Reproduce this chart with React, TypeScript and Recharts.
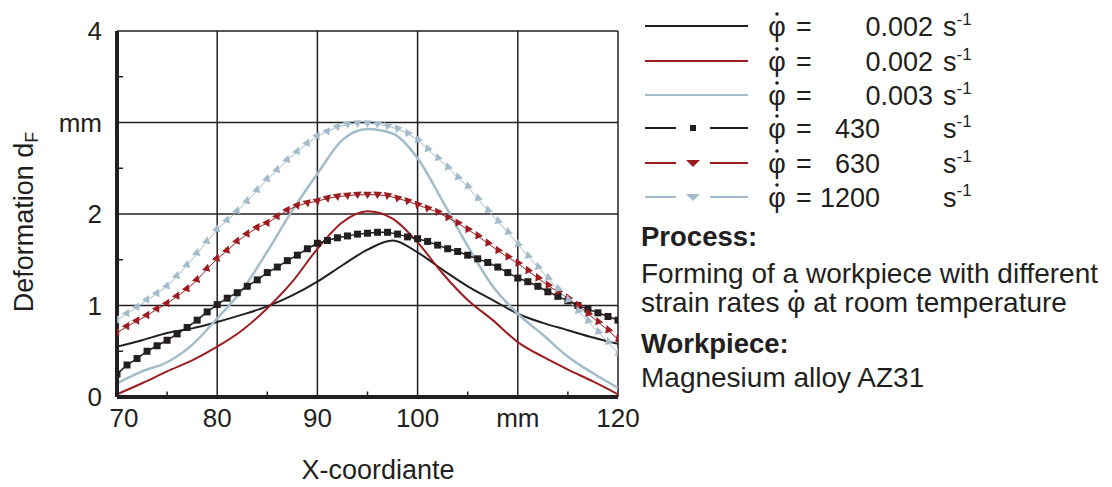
import React from 'react';
import { LineChart, Line, XAxis, YAxis, CartesianGrid, ReferenceLine } from 'recharts';

// x positions (mm)
const xSlow = [70, 72.5, 75, 77.5, 80, 82.5, 85, 87.5, 90, 92.5, 95, 97.5, 100, 102.5, 105, 107.5, 110, 112.5, 115, 117.5, 120];
const xFast = [
  70, 71, 72, 73, 74, 75, 76, 77, 78, 79, 80, 81, 82, 83, 84, 85, 86, 87, 88, 89, 90,
  91, 92, 93, 94, 95, 96, 97, 98, 99, 100, 101, 102, 103, 104, 105, 106, 107, 108, 109, 110,
  111, 112, 113, 114, 115, 116, 117, 118, 119, 120,
];

// quasi-static strain rates
const black002 = [0.55, 0.62, 0.70, 0.75, 0.82, 0.90, 0.99, 1.11, 1.26, 1.44, 1.61, 1.71, 1.58, 1.39, 1.21, 1.06, 0.91, 0.81, 0.73, 0.65, 0.58];
const red002 = [0.03, 0.15, 0.28, 0.40, 0.55, 0.73, 0.97, 1.26, 1.62, 1.91, 2.03, 1.95, 1.69, 1.35, 1.06, 0.84, 0.60, 0.44, 0.30, 0.17, 0.03];
const blue003 = [0.15, 0.28, 0.38, 0.57, 0.86, 1.17, 1.59, 2.04, 2.44, 2.81, 2.93, 2.88, 2.61, 2.14, 1.65, 1.21, 0.91, 0.68, 0.44, 0.26, 0.10];

// dynamic strain rates
const black430 = [
  0.25, 0.35, 0.42, 0.50, 0.56, 0.62, 0.69, 0.76, 0.84, 0.93, 1.01, 1.08, 1.14, 1.21, 1.28, 1.36, 1.42, 1.49, 1.55, 1.62, 1.68,
  1.71, 1.74, 1.76, 1.78, 1.79, 1.80, 1.80, 1.78, 1.75, 1.73, 1.70, 1.66, 1.62, 1.59, 1.55, 1.51, 1.47, 1.42, 1.36, 1.30,
  1.26, 1.21, 1.15, 1.10, 1.05, 1.00, 0.96, 0.92, 0.88, 0.84,
];
const red630 = [
  0.70, 0.77, 0.83, 0.89, 0.96, 1.02, 1.10, 1.18, 1.28, 1.40, 1.51, 1.60, 1.70, 1.78, 1.85, 1.90, 1.97, 2.04, 2.09, 2.12, 2.14,
  2.17, 2.19, 2.20, 2.21, 2.21, 2.21, 2.20, 2.17, 2.14, 2.10, 2.06, 2.02, 1.96, 1.90, 1.83, 1.76, 1.68, 1.60, 1.53, 1.46,
  1.38, 1.30, 1.22, 1.15, 1.08, 1.00, 0.91, 0.82, 0.73, 0.63,
];
const blue1200 = [
  0.84, 0.91, 0.98, 1.06, 1.13, 1.21, 1.32, 1.44, 1.57, 1.70, 1.83, 1.93, 2.03, 2.14, 2.26, 2.38, 2.48, 2.59, 2.68, 2.77, 2.85,
  2.90, 2.95, 2.98, 2.99, 2.99, 2.98, 2.96, 2.93, 2.88, 2.81, 2.71, 2.61, 2.51, 2.40, 2.30, 2.17, 2.04, 1.92, 1.80, 1.67,
  1.54, 1.42, 1.30, 1.18, 1.06, 0.94, 0.83, 0.71, 0.60, 0.48,
];

const xTicks = [70, 80, 90, 100, 110, 120];
const yTicks = [0, 1, 2, 3, 4];
const xMinor = [75, 85, 95, 105, 115];
const yMinor = [0.5, 1.5, 2.5, 3.5];

const legendRates = ['0.002', '0.002', '0.003', '430', '630', '1200'];

const INK = '#231f20';
const RED = '#9d1c20';
const BLUE = '#a2bccb';
const FONT = '"Liberation Sans", Arial, sans-serif';

const W = 640;
const H = 487;
const PLOT = { left: 117, top: 31, right: 618, bottom: 397 };
const PX = (PLOT.right - PLOT.left) / 50;
const PY = (PLOT.bottom - PLOT.top) / 4;

const toPoints = (xs: number[], ys: number[]) => xs.map((x, i) => ({ x, y: ys[i] }));

const squareDot = (props: any) => {
  const { cx, cy, index } = props;
  if (cx == null || cy == null) return <g key={index} />;
  return <rect key={index} x={cx - 3.5} y={cy - 3.5} width={7} height={7} fill={INK} />;
};

// triangles sit under the curve, pointing away from it
const triangleDot = (ys: number[], color: string) => (props: any) => {
  const { cx, cy, index } = props;
  if (cx == null || cy == null) return <g key={index} />;
  const i0 = Math.max(0, index - 1);
  const i1 = Math.min(ys.length - 1, index + 1);
  const dy = ys[i1] - ys[i0];
  const dx = xFast[i1] - xFast[i0];
  const ang = (Math.atan2(-dy * PY, dx * PX) * 180) / Math.PI;
  return (
    <path
      key={index}
      d="M-4.3,-3 L4.3,-3 L0,4.3 Z"
      fill={color}
      transform={`translate(${cx},${cy}) rotate(${ang})`}
    />
  );
};

const XTick = (props: any) => {
  const { x, payload } = props;
  const v = payload.value;
  return (
    <text
      x={x + (v === 70 ? 7 : 0)}
      y={PLOT.bottom + 30}
      textAnchor="middle"
      fontSize={26}
      fontFamily={FONT}
      fill={INK}
    >
      {v === 110 ? 'mm' : v}
    </text>
  );
};

const YTick = (props: any) => {
  const { y, payload } = props;
  const v = payload.value;
  return (
    <text x={102} y={y + 9} textAnchor="end" fontSize={26} fontFamily={FONT} fill={INK}>
      {v === 3 ? 'mm' : v}
    </text>
  );
};

const legendRows = [26, 61, 95, 128, 163, 197];
const legendColors = [INK, RED, BLUE, INK, RED, BLUE];

function LegendIcon({ row, i }: { row: number; i: number }) {
  const color = legendColors[i];
  if (i < 3) {
    return <line x1={645} x2={748} y1={row} y2={row} stroke={color} strokeWidth={2} />;
  }
  return (
    <g>
      <line x1={645} x2={676} y1={row} y2={row} stroke={color} strokeWidth={2} />
      <line x1={710} x2={748} y1={row} y2={row} stroke={color} strokeWidth={2} />
      {i === 3 ? (
        <rect x={690} y={row - 3} width={6} height={6} fill={color} />
      ) : (
        <path d={`M${686},${row - 3} L${700},${row - 3} L${693},${row + 4} Z`} fill={color} />
      )}
    </g>
  );
}

// phi with a dot above (strain rate symbol)
function PhiDot({ x, base }: { x: number; base: number }) {
  return (
    <g>
      <text x={x} y={base} fontSize={27} textAnchor="middle">φ</text>
      <circle cx={x} cy={base - 21.5} r={1.8} fill={INK} />
    </g>
  );
}

export default function App() {
  return (
    <div style={{ position: 'absolute', left: 0, top: 0, width: 1112, height: 487, background: '#fff' }}>
      <div style={{ position: 'absolute', left: 0, top: 0 }}>
        <LineChart width={W} height={H} margin={{ top: PLOT.top, right: W - PLOT.right, bottom: 50, left: 57 }}>
          <CartesianGrid stroke={INK} strokeWidth={1.5} />
          <XAxis
            type="number"
            dataKey="x"
            domain={[70, 120]}
            ticks={xTicks}
            height={H - PLOT.bottom - 50}
            axisLine={{ stroke: INK, strokeWidth: 4 }}
            tickLine={false}
            tick={<XTick />}
            allowDataOverflow
          />
          <YAxis
            type="number"
            domain={[0, 4]}
            ticks={yTicks}
            width={60}
            axisLine={{ stroke: INK, strokeWidth: 4 }}
            tickLine={false}
            tick={<YTick />}
            allowDataOverflow
          />
          {xMinor.map((v) => (
            <ReferenceLine key={`xm${v}`} segment={[{ x: v, y: 0 }, { x: v, y: 0.06 }]} stroke={INK} strokeWidth={1.5} />
          ))}
          {yMinor.map((v) => (
            <ReferenceLine key={`ym${v}`} segment={[{ x: 70, y: v }, { x: 70.6, y: v }]} stroke={INK} strokeWidth={1.5} />
          ))}
          <Line data={toPoints(xSlow, black002)} dataKey="y" type="monotone" stroke={INK} strokeWidth={2} dot={false} isAnimationActive={false} />
          <Line data={toPoints(xSlow, red002)} dataKey="y" type="monotone" stroke={RED} strokeWidth={2} dot={false} isAnimationActive={false} />
          <Line data={toPoints(xSlow, blue003)} dataKey="y" type="monotone" stroke={BLUE} strokeWidth={2.5} dot={false} isAnimationActive={false} />
          <Line data={toPoints(xFast, black430)} dataKey="y" type="linear" stroke={INK} strokeWidth={1.5} dot={squareDot} isAnimationActive={false} />
          <Line data={toPoints(xFast, red630)} dataKey="y" type="linear" stroke={RED} strokeWidth={1} dot={triangleDot(red630, RED)} isAnimationActive={false} />
          <Line data={toPoints(xFast, blue1200)} dataKey="y" type="linear" stroke={BLUE} strokeWidth={1} dot={triangleDot(blue1200, BLUE)} isAnimationActive={false} />
        </LineChart>
      </div>
      <svg
        width={1112}
        height={487}
        style={{ position: 'absolute', left: 0, top: 0, pointerEvents: 'none' }}
        fontFamily={FONT}
        fill={INK}
      >
        <text transform="translate(33,222) rotate(-90)" textAnchor="middle" fontSize={27}>
          Deformation d<tspan fontSize={18} dy={5}>F</tspan>
        </text>
        <text x={378} y={479} textAnchor="middle" fontSize={27}>
          X-coordiante
        </text>

        {legendRows.map((row, i) => (
          <g key={i}>
            <LegendIcon row={row} i={i} />
            <PhiDot x={777} base={row + 9.5} />
            <text x={796} y={row + 9.5} fontSize={27}>=</text>
            <text x={i < 3 ? 933 : 880} y={row + 9.5} fontSize={27} textAnchor="end">
              {legendRates[i]}
            </text>
            <text x={943} y={row + 9.5} fontSize={27}>
              s<tspan fontSize={17} dy={-11}>-1</tspan>
            </text>
          </g>
        ))}

        <text x={641} y={246} fontSize={27.5} fontWeight="bold">Process:</text>
        <text x={641} y={283} fontSize={28}>Forming of a workpiece with different</text>
        <text x={641} y={312} fontSize={28}>strain rates φ at room temperature</text>
        <circle cx={796} cy={291} r={1.8} fill={INK} />
        <text x={641} y={353} fontSize={27.5} fontWeight="bold">Workpiece:</text>
        <text x={641} y={387} fontSize={28}>Magnesium alloy AZ31</text>
      </svg>
    </div>
  );
}
